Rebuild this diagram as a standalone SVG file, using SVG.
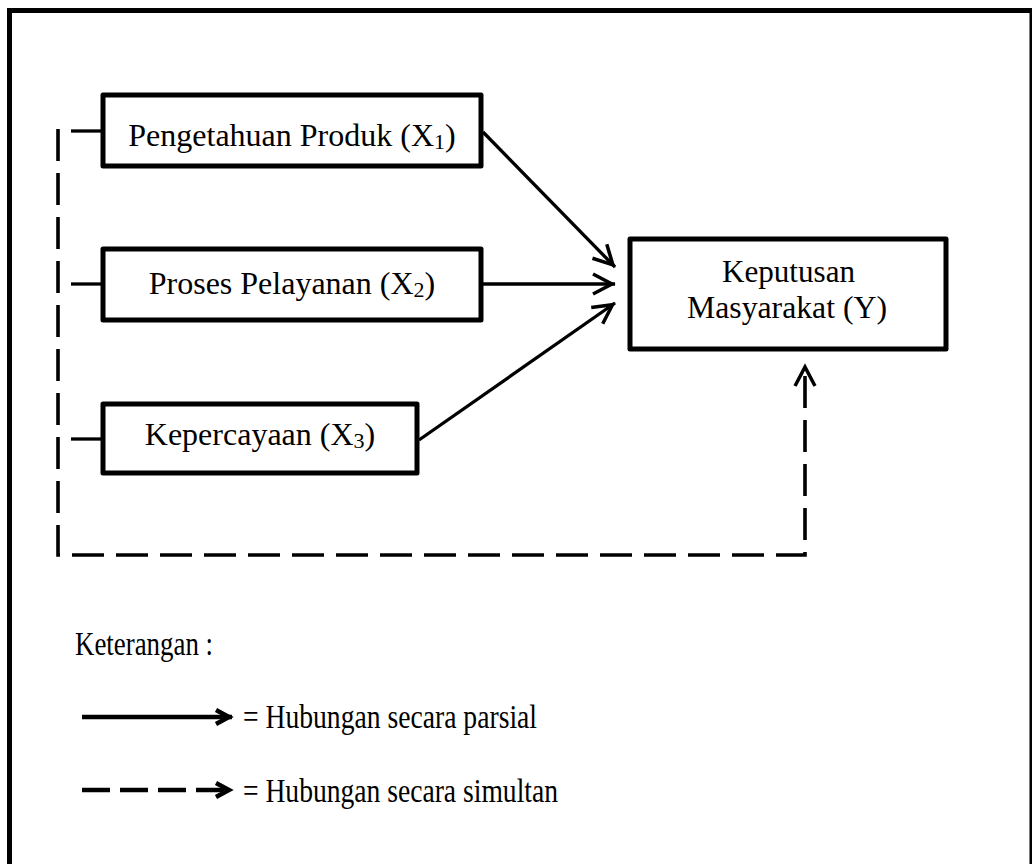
<svg xmlns="http://www.w3.org/2000/svg" width="1032" height="864" viewBox="0 0 1032 864">
<style>
.box{fill:#fff;stroke:#000;stroke-width:5;stroke-linejoin:round}
.t{font-family:"Liberation Serif","Times New Roman",serif;fill:#000;font-size:32px;text-anchor:middle}
.ty{font-family:"Liberation Serif","Times New Roman",serif;fill:#000;font-size:32px}
.tl{font-family:"Liberation Serif","Times New Roman",serif;fill:#000;font-size:33px}
.sub{font-size:22px}
.solid{fill:none;stroke:#000;stroke-width:3.3}
.dash{fill:none;stroke:#000;stroke-width:3.6;stroke-dasharray:32 12}
</style>
<defs>
<marker id="arr" markerUnits="userSpaceOnUse" viewBox="-26 -15 32 30" markerWidth="32" markerHeight="30" refX="3" refY="0" orient="auto">
<path d="M-19,-10 L0,0 L-19,10" fill="none" stroke="#000" stroke-width="3.5"/>
</marker>
<marker id="arrS" markerUnits="userSpaceOnUse" viewBox="-20 -12 26 24" markerWidth="26" markerHeight="24" refX="3" refY="0" orient="auto">
<path d="M-13,-7 L0,0 L-13,7" fill="none" stroke="#000" stroke-width="4.5"/>
</marker>
</defs>
<path d="M9.5,870 V10.5 H1032 V870" fill="none" stroke="#000" stroke-width="5"/>
<g id="connectors">
<line class="solid" x1="71" y1="131" x2="103" y2="131"/>
<line class="solid" x1="71" y1="284" x2="103" y2="284"/>
<line class="solid" x1="71" y1="439" x2="103" y2="439"/>
<path class="dash" d="M58,129 V555 H805 V364" marker-end="url(#arr)"/>
<line class="solid" x1="483" y1="132" x2="615" y2="267" marker-end="url(#arr)"/>
<line class="solid" x1="483" y1="284" x2="615" y2="284" marker-end="url(#arr)"/>
<line class="solid" x1="419" y1="440" x2="615" y2="303" marker-end="url(#arr)"/>
</g>
<g id="x1">
<rect class="box" x="103" y="95" width="378" height="71"/>
<text class="t" x="292" y="146">Pengetahuan Produk (X<tspan class="sub" dy="3">1</tspan><tspan dy="-3">)</tspan></text>
</g>
<g id="x2">
<rect class="box" x="103" y="249" width="378" height="71"/>
<text class="t" x="292" y="294">Proses Pelayanan (X<tspan class="sub" dy="3">2</tspan><tspan dy="-3">)</tspan></text>
</g>
<g id="x3">
<rect class="box" x="103" y="404" width="314" height="69"/>
<text class="t" x="260" y="445">Kepercayaan (X<tspan class="sub" dy="3">3</tspan><tspan dy="-3">)</tspan></text>
</g>
<g id="y">
<rect class="box" x="630" y="239" width="316" height="110"/>
<text class="ty" x="722" y="282" textLength="133" lengthAdjust="spacingAndGlyphs">Keputusan</text>
<text class="ty" x="687" y="318" textLength="200" lengthAdjust="spacingAndGlyphs">Masyarakat (Y)</text>
</g>
<g id="legend">
<text class="tl" x="75" y="655" textLength="138" lengthAdjust="spacingAndGlyphs">Keterangan :</text>
<line x1="82" y1="717" x2="232" y2="717" stroke="#000" stroke-width="4.5" marker-end="url(#arrS)"/>
<text class="tl" x="243" y="728" textLength="294" lengthAdjust="spacingAndGlyphs">= Hubungan secara parsial</text>
<line x1="82" y1="790" x2="232" y2="790" stroke="#000" stroke-width="4.5" stroke-dasharray="28 10" marker-end="url(#arrS)"/>
<text class="tl" x="243" y="802" textLength="315" lengthAdjust="spacingAndGlyphs">= Hubungan secara simultan</text>
</g>
</svg>
